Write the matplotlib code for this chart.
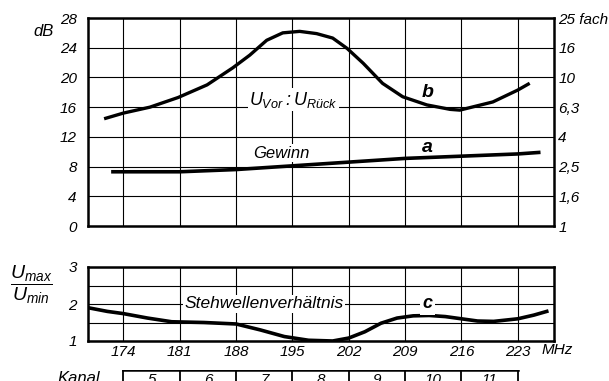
import matplotlib.pyplot as plt
from matplotlib import font_manager

# Frequenzachse (MHz) und Kanaleinteilung Band III
f_min, f_max = 169.6, 227.5
kanal_grenzen = [174, 181, 188, 195, 202, 209, 216, 223]
kanaele = ['5', '6', '7', '8', '9', '10', '11']

# b: Vor-/Rückverhältnis in dB
f_b = [171.8, 174.0, 177.3, 180.8, 184.4, 187.6, 189.7, 191.8, 193.8, 195.9, 198.0,
       200.0, 201.8, 203.8, 206.2, 208.7, 211.7, 214.6, 215.8, 219.9, 223.0, 224.3]
vr_db = [14.5, 15.2, 16.0, 17.3, 19.0, 21.3, 23.0, 25.0, 26.0, 26.2, 25.9,
         25.3, 23.9, 21.9, 19.2, 17.4, 16.3, 15.7, 15.6, 16.7, 18.3, 19.1]

# a: Gewinn in dB
f_a = [172.7, 181, 188, 195, 202, 209, 216, 223, 225.6]
gewinn_db = [7.3, 7.3, 7.6, 8.1, 8.6, 9.1, 9.4, 9.7, 9.9]

# c: Stehwellenverhältnis
f_c = [169.6, 172, 174, 177, 180, 184, 188, 191, 194, 197, 200, 202, 204, 206,
       208, 210, 212, 214, 216, 218, 220, 223, 225, 226.6]
swr = [1.9, 1.8, 1.74, 1.62, 1.52, 1.5, 1.46, 1.3, 1.12, 1.02, 1.0, 1.08, 1.25, 1.48,
       1.62, 1.68, 1.69, 1.66, 1.6, 1.54, 1.53, 1.6, 1.7, 1.8]

db_ticks = [0, 4, 8, 12, 16, 20, 24, 28]
fach_labels = ['1', '1,6', '2,5', '4', '6,3', '10', '16', '25 fach']

names = font_manager.get_font_names()
font = 'Liberation Sans Narrow' if 'Liberation Sans Narrow' in names else 'Liberation Sans'
plt.rcParams['font.family'] = [font, 'DejaVu Sans']
plt.rcParams['font.style'] = 'italic'
plt.rcParams['mathtext.fontset'] = 'custom'
plt.rcParams['mathtext.it'] = font + ':italic'
plt.rcParams['mathtext.rm'] = font + ':italic'

fig = plt.figure(figsize=(6.09, 3.81), dpi=100)
W, H = 609, 381


def box(l, t, r, b):
    return [l / W, 1 - b / H, (r - l) / W, (b - t) / H]


weiss = dict(facecolor='white', edgecolor='none', pad=1)

# oberes Diagramm
ax = fig.add_axes(box(88, 18, 554, 226))
ax.plot(f_b, vr_db, color='black', lw=2.4)
ax.plot(f_a, gewinn_db, color='black', lw=2.6)
ax.set_xlim(f_min, f_max)
ax.set_ylim(0, 28)
ax.set_xticks(kanal_grenzen)
ax.set_xticklabels([])
ax.set_yticks(db_ticks)
ax.set_yticklabels([str(v) for v in db_ticks], fontsize=11)
ax.tick_params(length=0, pad=8)
ax.grid(True, color='black', lw=0.8)
ax.set_axisbelow(True)
for s in ax.spines.values():
    s.set_linewidth(1.8)

ax2 = ax.twinx()
ax2.set_ylim(0, 28)
ax2.set_yticks(db_ticks)
ax2.set_yticklabels(fach_labels, fontsize=11)
ax2.tick_params(length=0, pad=3)
for s in ax2.spines.values():
    s.set_visible(False)

ax.text(195.1, 17.0, r'$U_{Vor}:U_{Rück}$', fontsize=13, ha='center', va='center', bbox=weiss)
ax.text(193.6, 9.8, 'Gewinn', fontsize=12, ha='center', va='center', bbox=weiss)
ax.text(211.8, 18.0, 'b', fontsize=14, fontweight='bold', ha='center', va='center')
ax.text(211.8, 10.5, 'a', fontsize=14, fontweight='bold', ha='center', va='center')
fig.text(54 / W, 1 - 32 / H, 'dB', fontsize=12, ha='right', va='center')

# unteres Diagramm
bx = fig.add_axes(box(88, 267, 554, 341))
bx.plot(f_c, swr, color='black', lw=2.6)
bx.set_xlim(f_min, f_max)
bx.set_ylim(1, 3)
bx.set_xticks(kanal_grenzen)
bx.set_xticklabels([str(k) for k in kanal_grenzen], fontsize=11)
bx.set_yticks([1, 1.5, 2, 2.5, 3])
bx.set_yticklabels(['1', '', '2', '', '3'], fontsize=11)
bx.tick_params(length=0, pad=8)
bx.tick_params(axis='x', pad=3)
bx.grid(True, color='black', lw=0.8)
bx.set_axisbelow(True)
for s in bx.spines.values():
    s.set_linewidth(1.8)

bx.text(191.5, 2.0, 'Stehwellenverhältnis', fontsize=12.5, ha='center', va='center', bbox=weiss)
bx.text(211.8, 2.0, 'c', fontsize=13, fontweight='bold', ha='center', va='center',
        bbox=dict(facecolor='white', edgecolor='none', pad=2))
fig.text(542 / W, 1 - 350 / H, 'MHz', fontsize=11, ha='left', va='center')
fig.text(31 / W, 1 - 285 / H, r'$\dfrac{U_{max}}{U_{min}}$', fontsize=14, ha='center', va='center')

# Kanaltabelle
tx = fig.add_axes([88 / W, -0.04, 466 / W, 0.069])
tx.set_xlim(f_min, f_max)
tx.set_ylim(0, 1)
tx.axis('off')
tx.plot([kanal_grenzen[0], kanal_grenzen[-1]], [1, 1], color='black', lw=1.8)
tx.vlines(kanal_grenzen, 0, 1, color='black', lw=1.3)
for i, k in enumerate(kanaele):
    tx.text((kanal_grenzen[i] + kanal_grenzen[i + 1]) / 2, 0.9, k, fontsize=11,
            ha='center', va='top')
fig.text(100 / W, 1 - 371 / H, 'Kanal', fontsize=12, ha='right', va='top')

fig.savefig('out.png', dpi=100)
